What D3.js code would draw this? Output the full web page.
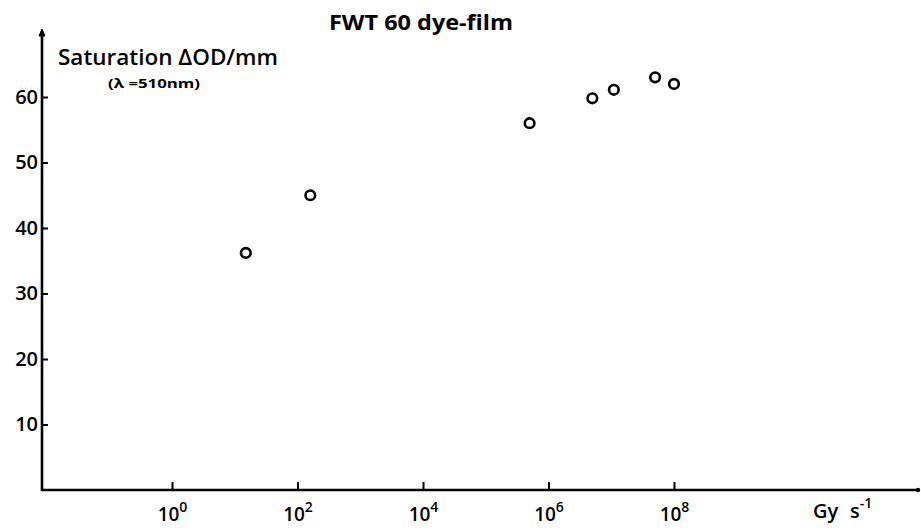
<!DOCTYPE html>
<html>
<head>
<meta charset="utf-8">
<script src="https://cdn.jsdelivr.net/npm/d3@7"></script>
<style>
  html, body { margin: 0; padding: 0; background: #fff; }
  svg { display: block; }
  text { font-family: "Open Sans", "DejaVu Sans", sans-serif; fill: #000; }
</style>
</head>
<body>
<svg id="chart" width="921" height="530"></svg>
<script>
// Dose rate (Gy s^-1) and saturation optical density per mm for FWT 60 dye-film
const doseRate   = [15, 160, 5e5, 5e6, 1.1e7, 5e7, 1e8];
const saturation = [36.2, 45.0, 56.0, 59.8, 61.1, 63.0, 62.0];

const xTickExponents = [0, 2, 4, 6, 8];
const yTicks = [10, 20, 30, 40, 50, 60];

const titleText = "FWT 60 dye-film";
const yLabelText = "Saturation \u0394OD/mm";
const ySubLabelText = "(\u03bb =510nm)";
const xUnitBase = "Gy";
const xUnitSecond = "s";
const xUnitExp = "-1";

const svg = d3.select("#chart");

const axisLeftX = 42, axisBottomY = 490, axisRightX = 919, axisTopY = 29;

const x = d3.scaleLog().domain([1, 1e8]).range([172, 674]);
const y = d3.scaleLinear().domain([0, 60]).range([axisBottomY, 97]);

// Axis lines drawn by hand so they run past the tick range
svg.append("line")
  .attr("x1", axisLeftX).attr("y1", axisBottomY)
  .attr("x2", axisRightX).attr("y2", axisBottomY)
  .attr("stroke", "#000").attr("stroke-width", 2.6);
svg.append("line")
  .attr("x1", axisLeftX).attr("y1", axisBottomY + 1)
  .attr("x2", axisLeftX).attr("y2", axisTopY + 4)
  .attr("stroke", "#000").attr("stroke-width", 2.6);
// arrow heads
svg.append("path")
  .attr("d", `M${axisLeftX - 3},${axisTopY + 7} L${axisLeftX},${axisTopY} L${axisLeftX + 3},${axisTopY + 7} Z`)
  .attr("fill", "#000").attr("stroke", "#000").attr("stroke-width", 1);
svg.append("circle")
  .attr("cx", axisRightX - 1).attr("cy", axisBottomY).attr("r", 2.2).attr("fill", "#000");

// X axis ticks and labels
const xAxis = d3.axisBottom(x)
  .tickValues(xTickExponents.map(e => Math.pow(10, e)))
  .tickSizeInner(-8).tickSizeOuter(0).tickPadding(14)
  .tickFormat(() => "");
const gx = svg.append("g")
  .attr("transform", `translate(0,${axisBottomY})`)
  .call(xAxis);
gx.select(".domain").remove();
gx.selectAll(".tick line").attr("stroke", "#000").attr("stroke-width", 2);
gx.selectAll(".tick text").each(function(d, i) {
  const t = d3.select(this);
  t.text(null)
    .attr("font-size", 19).attr("font-weight", 600)
    .attr("dy", null).attr("y", 31).attr("x", 0)
    .attr("text-anchor", "middle");
  t.append("tspan").text("10");
  t.append("tspan").attr("dy", -9).attr("font-size", 14).text(String(xTickExponents[i]));
});

// Y axis ticks and labels
const yAxis = d3.axisLeft(y)
  .tickValues(yTicks)
  .tickSizeInner(-6).tickSizeOuter(0).tickPadding(4);
const gy = svg.append("g")
  .attr("transform", `translate(${axisLeftX},0)`)
  .call(yAxis);
gy.select(".domain").remove();
gy.selectAll(".tick line").attr("stroke", "#000").attr("stroke-width", 2);
gy.selectAll(".tick text")
  .attr("font-size", 20).attr("font-weight", 600)
  .attr("font-family", "\"Open Sans\", sans-serif");

// Titles and axis labels
svg.append("text")
  .attr("x", 329).attr("y", 30)
  .attr("font-size", 22).attr("font-weight", 700)
  .attr("textLength", 184).attr("lengthAdjust", "spacingAndGlyphs")
  .text(titleText);

svg.append("text")
  .attr("x", 58).attr("y", 65)
  .attr("font-size", 22).attr("font-weight", 600)
  .attr("textLength", 220).attr("lengthAdjust", "spacingAndGlyphs")
  .text(yLabelText);

svg.append("text")
  .attr("x", 108).attr("y", 88)
  .attr("font-size", 13).attr("font-weight", 700)
  .attr("textLength", 92).attr("lengthAdjust", "spacingAndGlyphs")
  .text(ySubLabelText);

const unit = svg.append("text")
  .attr("y", 518)
  .attr("font-size", 20).attr("font-weight", 600);
unit.append("tspan").attr("x", 813).text(xUnitBase);
unit.append("tspan").attr("x", 850).text(xUnitSecond);
unit.append("tspan").attr("dy", -10).attr("font-size", 14).text(xUnitExp);

// Data markers: open circles
svg.append("g")
  .selectAll("circle")
  .data(doseRate.map((d, i) => ({ rate: d, sat: saturation[i] })))
  .join("circle")
  .attr("cx", d => x(d.rate))
  .attr("cy", d => y(d.sat))
  .attr("r", 4.8)
  .attr("fill", "none")
  .attr("stroke", "#000")
  .attr("stroke-width", 2.6);
</script>
</body>
</html>
